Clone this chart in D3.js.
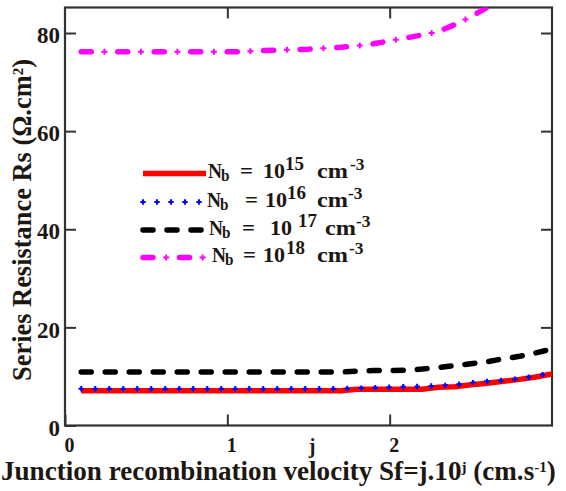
<!DOCTYPE html>
<html>
<head>
<meta charset="utf-8">
<script src="https://cdn.jsdelivr.net/npm/d3@7"></script>
<style>
  body { margin: 0; background: #fff; }
  svg { display: block; }
  text { font-family: "Liberation Serif", "Times New Roman", serif; font-weight: bold; }
</style>
</head>
<body>
<svg id="chart" width="566" height="491"></svg>
<script>
// Junction recombination velocity exponent j (Sf = j.10^j)
const jValues = [0.1, 0.2, 0.3, 0.4, 0.5, 0.6, 0.7, 0.8, 0.9, 1.0,
                 1.1, 1.2, 1.3, 1.4, 1.5, 1.6, 1.7, 1.8, 1.9, 2.0,
                 2.1, 2.2, 2.3, 2.4, 2.5, 2.6, 2.7, 2.8, 2.9, 3.0];

// Series resistance Rs (Ω.cm²) for each base doping level Nb
const rsNb15 = [7.1, 7.1, 7.1, 7.1, 7.1, 7.1, 7.1, 7.1, 7.1, 7.1,
                7.1, 7.1, 7.1, 7.1, 7.1, 7.1, 7.1, 7.4, 7.4, 7.4,
                7.4, 7.4, 7.8, 7.9, 8.3, 8.6, 9.0, 9.4, 9.9, 10.5];
const rsNb16 = [7.5, 7.5, 7.5, 7.5, 7.5, 7.5, 7.5, 7.5, 7.5, 7.5,
                7.5, 7.5, 7.5, 7.5, 7.5, 7.5, 7.5, 7.6, 7.7, 7.8,
                7.9, 8.0, 8.1, 8.3, 8.7, 9.0, 9.2, 9.5, 10.1, 10.7];
const rsNb17 = [10.9, 10.9, 10.9, 10.9, 10.9, 10.9, 10.9, 10.9, 10.9, 10.9,
                10.9, 10.9, 10.9, 10.9, 10.9, 10.9, 10.9, 11.1, 11.2, 11.2,
                11.3, 11.5, 11.8, 12.2, 12.6, 13.0, 13.6, 14.1, 14.8, 15.6];
const rsNb18 = [76.2, 76.2, 76.2, 76.2, 76.2, 76.2, 76.2, 76.2, 76.2, 76.2,
                76.2, 76.4, 76.5, 76.6, 76.7, 76.9, 77.1, 77.4, 77.8, 78.4,
                79.0, 79.6, 80.3, 81.7, 83.3, 85.2, 87.2, 89.5, 92.0, 95.0];

const xTicks = [0, 1, 2];
const yTicks = [0, 20, 40, 60, 80];
const dopingExponents = ["15", "16", "17", "18"];

const svg = d3.select("#chart");
const ink = "#1d1712";

const plotL = 65, plotR = 552, plotT = 7.5, plotB = 425.5;
const x = d3.scaleLinear().domain([0, 3]).range([plotL, plotR]);
const y = d3.scaleLinear().domain([0, 85.2]).range([plotB, plotT]);

// Clip region for curves
svg.append("defs").append("clipPath").attr("id", "plotClip")
  .append("rect").attr("x", plotL).attr("y", plotT)
  .attr("width", plotR - plotL).attr("height", plotB - plotT);

// Axes with inward ticks on all four sides
const tickLen = 11;
const axisStyle = g => {
  g.select(".domain").remove();
  g.selectAll(".tick line").attr("stroke", "#333").attr("stroke-width", 2);
  g.selectAll(".tick text").attr("fill", ink).attr("font-family", "Liberation Serif, serif")
    .attr("font-weight", "bold");
};

svg.append("g").attr("transform", `translate(${plotL},0)`)
  .call(d3.axisLeft(y).tickValues(yTicks).tickFormat(d3.format("d"))
    .tickSizeInner(-tickLen).tickSizeOuter(0).tickPadding(5))
  .call(axisStyle)
  .call(g => g.selectAll(".tick text").attr("font-size", 23).attr("dy", "0.42em"));

svg.append("g").attr("transform", `translate(${plotR},0)`)
  .call(d3.axisRight(y).tickValues(yTicks.slice(1)).tickFormat("")
    .tickSizeInner(-tickLen).tickSizeOuter(0))
  .call(axisStyle);

svg.append("g").attr("transform", `translate(0,${plotB})`)
  .call(d3.axisBottom(x).tickValues(xTicks).tickFormat(d3.format("d"))
    .tickSizeInner(-tickLen).tickSizeOuter(0).tickPadding(12))
  .call(axisStyle)
  .call(g => g.selectAll(".tick text").attr("font-size", 20).attr("dx", 4));

svg.append("g").attr("transform", `translate(0,${plotT})`)
  .call(d3.axisTop(x).tickValues(xTicks.slice(1)).tickFormat("")
    .tickSizeInner(-tickLen).tickSizeOuter(0))
  .call(axisStyle);

// Plot frame
svg.append("rect").attr("x", plotL).attr("y", plotT)
  .attr("width", plotR - plotL).attr("height", plotB - plotT)
  .attr("fill", "none").attr("stroke", "#333").attr("stroke-width", 2.2);

// Curves
const line = d3.line().x(d => x(d[0])).y(d => y(d[1]));
const toPts = vals => jValues.map((j, i) => [j, vals[i]]);

const series = [
  { vals: rsNb15, style: "solid",   color: "#ff0000" },
  { vals: rsNb16, style: "plus",    color: "#0000ff" },
  { vals: rsNb17, style: "dash",    color: "#000000" },
  { vals: rsNb18, style: "dashdot", color: "#ff00ff" }
];

const plotG = svg.append("g").attr("clip-path", "url(#plotClip)");

function plusPath(pts, a) {
  return pts.map(p => `M${p.x - a},${p.y}h${2 * a}M${p.x},${p.y - a}v${2 * a}`).join("");
}
function pointsAlong(node, spacing, offset) {
  const len = node.getTotalLength();
  const out = [];
  for (let s = offset; s <= len + 0.01; s += spacing) out.push(node.getPointAtLength(Math.min(s, len)));
  return out;
}

function drawStyled(g, d, s) {
  if (s.style === "solid") {
    g.append("path").attr("d", d).attr("fill", "none").attr("stroke", s.color)
      .attr("stroke-width", 5.5);
  } else if (s.style === "plus") {
    const guide = g.append("path").attr("d", d).attr("fill", "none").attr("stroke", "none");
    const pts = pointsAlong(guide.node(), 14, 0);
    g.append("path").attr("d", plusPath(pts, 2.7)).attr("fill", "none")
      .attr("stroke", s.color).attr("stroke-width", 2);
  } else if (s.style === "dash") {
    g.append("path").attr("d", d).attr("fill", "none").attr("stroke", s.color)
      .attr("stroke-width", 5.5).attr("stroke-linecap", "round")
      .attr("stroke-dasharray", "10,14");
  } else if (s.style === "dashdot") {
    const p = g.append("path").attr("d", d).attr("fill", "none").attr("stroke", s.color)
      .attr("stroke-width", 5.5).attr("stroke-linecap", "round")
      .attr("stroke-dasharray", "10,26.5");
    const pts = pointsAlong(p.node(), 36.5, 23.2);
    g.append("path").attr("d", plusPath(pts, 3)).attr("fill", "none")
      .attr("stroke", s.color).attr("stroke-width", 2);
  }
}

series.forEach(s => drawStyled(plotG, line(toPts(s.vals)), s));

// Legend: sample line + "Nb = 10^k cm^-3", each piece placed and sized on its own
const legendX0 = 143, legendX1 = 206;
const legendY = [173.5, 202, 230, 257.5];
const legendPieceX = [
  { N: 208, b: 221, eq: 240, ten: 263, sup: 285, cm: 317, m3: 350 },
  { N: 207, b: 220, eq: 245, ten: 265, sup: 287, cm: 317, m3: 348 },
  { N: 209, b: 222, eq: 242, ten: 270, sup: 298, cm: 325, m3: 356 },
  { N: 212, b: 225, eq: 243, ten: 263, sup: 286, cm: 317, m3: 349 }
];
const legendG = svg.append("g");
series.forEach((s, i) => {
  const ly = legendY[i];
  const base = ly + 4.5;
  const P = legendPieceX[i];
  drawStyled(legendG, `M${legendX0},${ly}H${legendX1}`, s);
  const t = legendG.append("text").attr("y", base).attr("font-size", 21).attr("fill", ink);
  const piece = (px, py, fs, len, str) => t.append("tspan").attr("x", px).attr("y", py)
    .attr("font-size", fs).attr("textLength", len).attr("lengthAdjust", "spacingAndGlyphs").text(str);
  piece(P.N, base, 20, 14, "N");
  piece(P.b, base + 3, 17, 8.5, "b");
  piece(P.eq, base, 21, 13, "=");
  piece(P.ten, base, 21.5, 22, "10");
  piece(P.sup, base - 8, 18, 19, dopingExponents[i]);
  piece(P.cm, base, 22, 31, "cm");
  piece(P.m3, base - 8, 17, 14.5, "-3");
});

// Axis titles, sized to their measured extent
function fit(textSel, target) {
  const w = textSel.node().getComputedTextLength();
  const fs = parseFloat(textSel.attr("font-size"));
  textSel.attr("font-size", fs * target / w);
  return fs * target / w;
}

const xTitle = svg.append("text").attr("x", 1).attr("y", 480).attr("font-size", 22)
  .attr("fill", ink);
xTitle.append("tspan").text("Junction recombination velocity Sf=j.10");
const xs1 = xTitle.append("tspan").attr("dy", -8).text("j");
xTitle.append("tspan").attr("dy", 8).text(" (cm.s");
const xs3 = xTitle.append("tspan").attr("dy", -8).text("-1");
xTitle.append("tspan").attr("dy", 8).text(")");
xs1.attr("font-size", 15); xs3.attr("font-size", 15);
fit(xTitle, 559);

svg.append("text").attr("x", 312).attr("y", 453).attr("text-anchor", "middle")
  .attr("font-size", 20).attr("fill", ink).text("j");

const yTitle = svg.append("text").attr("transform", "translate(31,220) rotate(-90)")
  .attr("text-anchor", "middle").attr("font-size", 21).attr("fill", ink);
yTitle.append("tspan").text("Series Resistance Rs (Ω.cm");
yTitle.append("tspan").attr("font-size", 15).attr("dy", -8).text("2");
yTitle.append("tspan").attr("dy", 8).text(")");
fit(yTitle, 324);
</script>
</body>
</html>
